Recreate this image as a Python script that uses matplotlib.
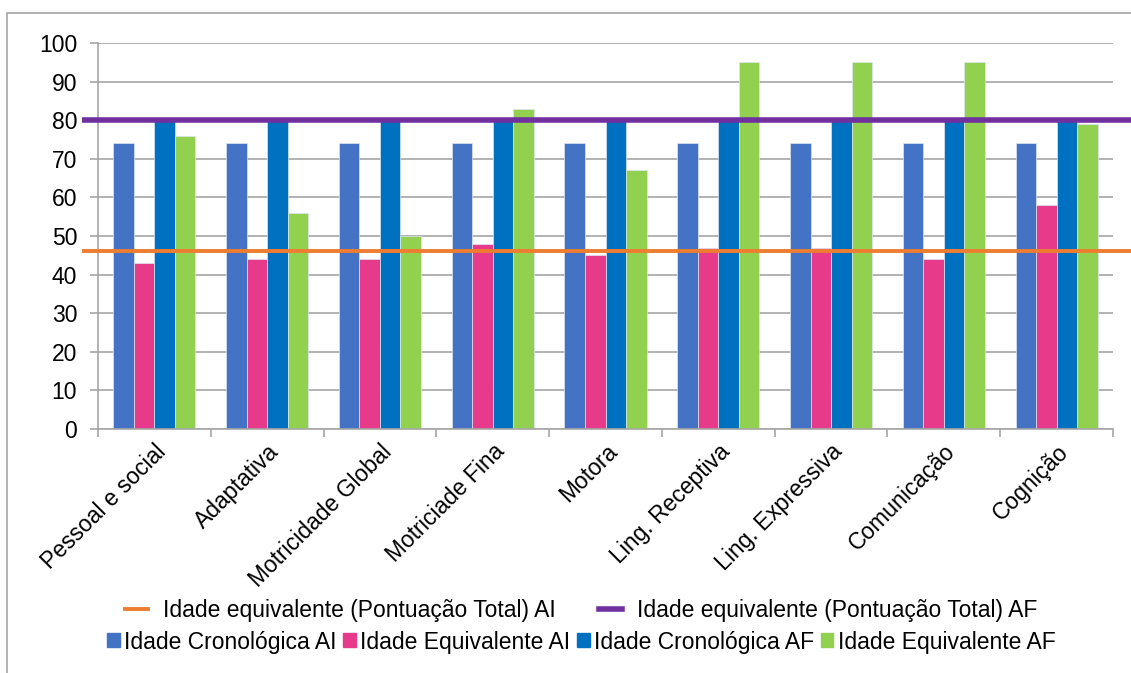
import numpy as np
import matplotlib
matplotlib.use('Agg')
import matplotlib.pyplot as plt
from matplotlib.patches import Rectangle, Patch
from matplotlib.lines import Line2D

plt.rcParams['font.family'] = ['Liberation Sans', 'DejaVu Sans']

categories = ['Pessoal e social', 'Adaptativa', 'Motricidade Global', 'Motriciade Fina',
              'Motora', 'Ling. Receptiva', 'Ling. Expressiva', 'Comunicação', 'Cognição']
cron_ai = [74, 74, 74, 74, 74, 74, 74, 74, 74]
equiv_ai = [43, 44, 44, 48, 45, 47, 47, 44, 58]
cron_af = [80, 80, 80, 80, 80, 80, 80, 80, 80]
equiv_af = [76, 56, 50, 83, 67, 95, 95, 95, 79]
total_ai = 46.2
total_af = 80

series = [
    ('Idade Cronológica AI', cron_ai, '#4472C4'),
    ('Idade Equivalente AI', equiv_ai, '#E83A8A'),
    ('Idade Cronológica AF', cron_af, '#0070C0'),
    ('Idade Equivalente AF', equiv_af, '#92D050'),
]

FS = 16.5

fig = plt.figure(figsize=(11.31, 6.73), dpi=100)
ax = fig.add_axes([98 / 1131, 1 - 429 / 673, (1113 - 98) / 1131, (429 - 43) / 673])

x = np.arange(len(categories))
w = 0.182
for i, (name, vals, col) in enumerate(series):
    ax.bar(x + (i - 1.5) * w, vals, width=w, color=col, edgecolor='#dde6f5',
           linewidth=0.5, zorder=2)

# reference lines (drawn past the plot area like the original)
tr = ax.get_yaxis_transform()
ax.plot([-0.016, 1.03], [total_ai, total_ai], transform=tr, color='#ED7D31',
        lw=2.8, clip_on=False, zorder=5, solid_capstyle='butt')
ax.plot([-0.016, 1.03], [total_af, total_af], transform=tr, color='#7030A0',
        lw=4.0, clip_on=False, zorder=5, solid_capstyle='butt')

ax.set_xlim(-0.5, len(categories) - 0.5)
ax.set_ylim(0, 100)
ax.set_yticks(range(0, 101, 10))
ax.yaxis.grid(True, color='#A6A6A6', lw=1.2)
ax.set_axisbelow(True)
ax.tick_params(axis='y', length=6, color='#A6A6A6', width=1.2, labelsize=FS, pad=9)

ax.set_xticks(np.arange(len(categories) + 1) - 0.5)
ax.set_xticklabels([])
ax.set_xticks(x, minor=True)
ax.set_xticklabels(categories, minor=True, rotation=45, ha='right',
                   rotation_mode='anchor', fontsize=FS)
ax.tick_params(axis='x', which='major', length=6, color='#A6A6A6', width=1.2)
ax.tick_params(axis='x', which='minor', length=0, pad=8)

for s in ['top', 'right']:
    ax.spines[s].set_visible(False)
for s in ['left', 'bottom']:
    ax.spines[s].set_color('#A6A6A6')
    ax.spines[s].set_linewidth(1.2)

# outer chart border
fig.patches.append(Rectangle((7 / 1131, -0.1), 1.2, 1 - 13 / 673 + 0.1,
                             transform=fig.transFigure, fill=False,
                             edgecolor='#A6A6A6', lw=1.2))

line_handles = [Line2D([], [], color='#ED7D31', lw=2.8),
                Line2D([], [], color='#7030A0', lw=4.0)]
leg1 = fig.legend(line_handles, ['Idade equivalente (Pontuação Total) AI',
                                 'Idade equivalente (Pontuação Total) AF'],
                  loc='center', bbox_to_anchor=(0.514, 1 - 611 / 673), ncol=2, frameon=False,
                  fontsize=FS, handlelength=1.0, handletextpad=0.65, columnspacing=1.9,
                  borderpad=0, borderaxespad=0)
bar_handles = [Patch(color=c) for _, _, c in series]
leg2 = fig.legend(bar_handles, [n for n, _, _ in series],
                  loc='center', bbox_to_anchor=(0.514, 1 - 642 / 673), ncol=4, frameon=False,
                  fontsize=FS, handlelength=0.55, handleheight=0.55, handletextpad=0.18,
                  columnspacing=0.3, borderpad=0, borderaxespad=0)

fig.savefig('out.png', dpi=100)
